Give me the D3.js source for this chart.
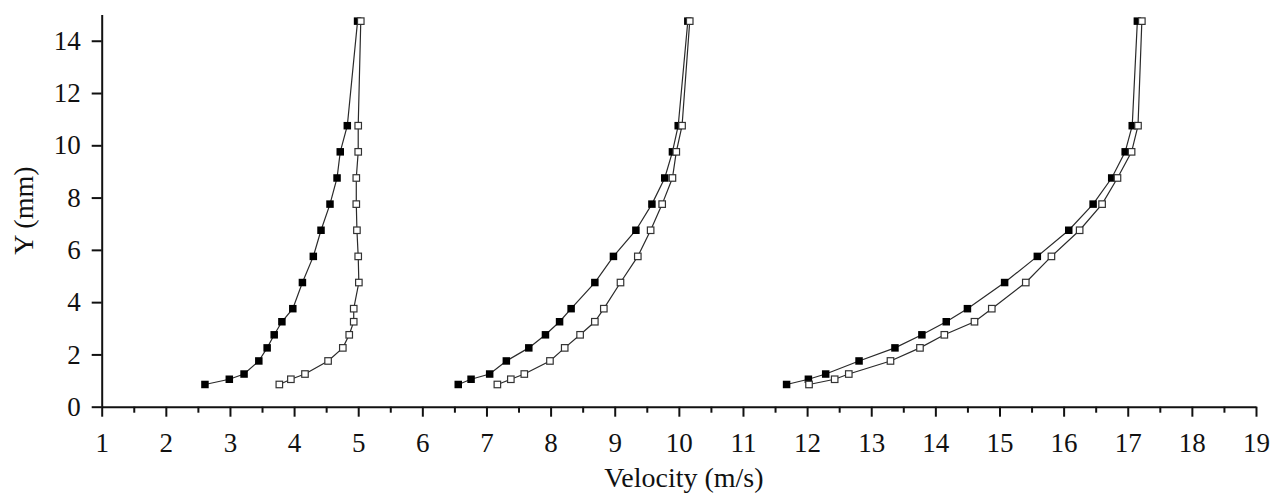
<!DOCTYPE html>
<html>
<head>
<meta charset="utf-8">
<script src="https://cdn.jsdelivr.net/npm/d3@7"></script>
<style>
  body { margin: 0; background: #fff; }
  .axis path, .axis line { stroke: #111; }
</style>
</head>
<body>
<svg id="chart" width="1279" height="493"></svg>
<script>
// measuring heights (mm)
const yLevels = [0.85, 1.05, 1.25, 1.75, 2.25, 2.75, 3.25, 3.75, 4.75, 5.75, 6.75, 7.75, 8.75, 9.75, 10.75, 14.75];

// velocity profiles (m/s), filled = solid markers, open = hollow markers
const lowFilled  = [2.61, 2.99, 3.22, 3.45, 3.58, 3.69, 3.81, 3.98, 4.13, 4.30, 4.42, 4.56, 4.67, 4.72, 4.83, 4.99];
const lowOpen    = [3.77, 3.95, 4.17, 4.53, 4.76, 4.86, 4.93, 4.93, 5.01, 5.00, 4.98, 4.97, 4.97, 5.00, 5.00, 5.04];
const midFilled  = [6.56, 6.76, 7.05, 7.31, 7.66, 7.92, 8.14, 8.32, 8.69, 8.98, 9.33, 9.58, 9.78, 9.90, 9.99, 10.14];
const midOpen    = [7.17, 7.38, 7.59, 7.99, 8.22, 8.46, 8.69, 8.83, 9.09, 9.36, 9.56, 9.74, 9.90, 9.96, 10.05, 10.17];
const highFilled = [11.68, 12.02, 12.29, 12.81, 13.37, 13.79, 14.17, 14.50, 15.08, 15.59, 16.08, 16.46, 16.75, 16.96, 17.07, 17.15];
const highOpen   = [12.03, 12.43, 12.65, 13.30, 13.76, 14.14, 14.61, 14.88, 15.41, 15.81, 16.25, 16.60, 16.84, 17.06, 17.16, 17.22];

const xTicks = d3.range(1, 20, 1);
const xMinor = d3.range(1.5, 19, 1);
const yTicks = [0, 2, 4, 6, 8, 10, 12, 14];

const width = 1279, height = 493;
const margin = { top: 14.6, right: 23, bottom: 86.3, left: 101.7 };
const FONT = "Liberation Serif";

const svg = d3.select("#chart");
const x = d3.scaleLinear().domain([1, 19]).range([margin.left, width - margin.right]);
const y = d3.scaleLinear().domain([0, 15]).range([height - margin.bottom, margin.top]);

// axes
const xAxis = svg.append("g").attr("class", "axis")
  .attr("transform", `translate(0,${y(0)})`)
  .call(d3.axisBottom(x).tickValues(xTicks).tickSize(10).tickSizeOuter(0).tickFormat(d3.format("d")));
svg.append("g").attr("class", "axis")
  .attr("transform", `translate(0,${y(0)})`)
  .call(d3.axisBottom(x).tickValues(xMinor).tickSize(6).tickFormat("").tickSizeOuter(0))
  .select(".domain").remove();

const yAxis = svg.append("g").attr("class", "axis")
  .attr("transform", `translate(${x(1)},0)`)
  .call(d3.axisLeft(y).tickValues(yTicks).tickSize(10).tickPadding(11).tickSizeOuter(0));

svg.selectAll(".axis").attr("font-family", FONT);
svg.selectAll(".axis .domain").attr("stroke-width", 2);
svg.selectAll(".axis .tick line").attr("stroke-width", 2);
svg.selectAll(".axis text").attr("font-size", 27).attr("fill", "#111");
xAxis.selectAll("text").attr("y", 45).attr("dy", 0);

svg.append("text")
  .attr("x", (x(1) + x(19)) / 2 + 5).attr("y", 487)
  .attr("text-anchor", "middle").attr("font-size", 28).attr("fill", "#111")
  .attr("font-family", FONT)
  .text("Velocity (m/s)");
svg.append("text")
  .attr("transform", `translate(33,${(y(0) + y(15)) / 2}) rotate(-90)`)
  .attr("text-anchor", "middle").attr("font-size", 28).attr("fill", "#111")
  .attr("font-family", FONT)
  .text("Y (mm)");

// profiles
const series = [
  { v: lowFilled, filled: true }, { v: midFilled, filled: true }, { v: highFilled, filled: true },
  { v: lowOpen, filled: false }, { v: midOpen, filled: false }, { v: highOpen, filled: false }
];

const line = d3.line().x(d => x(d[0])).y(d => y(d[1]));

series.forEach(s => {
  const pts = s.v.map((v, i) => [v, yLevels[i]]);
  svg.append("path").datum(pts)
    .attr("d", line).attr("fill", "none")
    .attr("stroke", "#2a2a2a").attr("stroke-width", 1.2);
});

series.forEach(s => {
  const pts = s.v.map((v, i) => [v, yLevels[i]]);
  const size = s.filled ? 7.5 : 6.5;
  svg.append("g").selectAll("rect").data(pts).enter().append("rect")
    .attr("x", d => x(d[0]) - size / 2).attr("y", d => y(d[1]) - size / 2)
    .attr("width", size).attr("height", size)
    .attr("fill", s.filled ? "#000" : "#fff")
    .attr("stroke", s.filled ? "none" : "#333")
    .attr("stroke-width", s.filled ? 0 : 1.2);
});
</script>
</body>
</html>
